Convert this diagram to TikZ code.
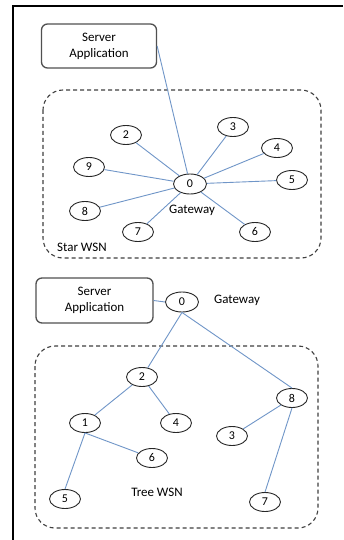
\documentclass[tikz,border=0pt]{standalone}
\usepackage{fontspec}
\setmainfont{Carlito}
\usetikzlibrary{shapes.geometric}
\definecolor{edgeblue}{RGB}{112,150,200}
\definecolor{boxgray}{RGB}{80,80,80}
\begin{document}
\begin{tikzpicture}[x=1bp,y=-1bp,
  nd/.style={ellipse,draw=black!85,line width=0.9bp,minimum width=31bp,minimum height=19bp,inner sep=0pt,font=\fontsize{12}{12}\selectfont},
  gw/.style={nd,minimum width=33bp,minimum height=20bp},
  srv/.style={draw=boxgray,line width=1.3bp,rounded corners=6bp,align=center,font=\fontsize{13}{16}\selectfont,inner sep=0pt},
  zone/.style={draw=black!75,dash pattern=on 4bp off 3bp,line width=1.1bp,rounded corners=20bp},
  lnk/.style={draw=edgeblue,line width=0.9bp},
  lbl/.style={font=\fontsize{13}{16}\selectfont,inner sep=0pt}]
\useasboundingbox (0,0) rectangle (343,540);
\fill[white] (0,0) rectangle (343,540);
\draw[line width=2bp] (12.5,540) -- (12.5,6) -- (343,6);

% ---------- Star WSN ----------
\node[srv,minimum width=115bp,minimum height=44bp] (s1) at (99,46) {Server\\Application};
\draw[zone] (43,90) rectangle (321,258);
\node[gw] (a0) at (190,184) {0};
\node[nd] (a2) at (126,135) {2};
\node[nd] (a3) at (233,127) {3};
\node[nd] (a4) at (277,148) {4};
\node[nd] (a5) at (292,180) {5};
\node[nd] (a9) at (89,167) {9};
\node[nd] (a8) at (85,211) {8};
\node[nd] (a7) at (138,232) {7};
\node[nd] (a6) at (255,232) {6};
\node[lbl] (agl) at (192,210) {Gateway};
\node[lbl] (asl) at (82,247) {Star WSN};
\foreach \n in {2,3,4,5,9,8,7,6} \draw[lnk] (a\n) -- (a0);
\draw[lnk] (s1.east) -- (a0);

% ---------- Tree WSN ----------
\node[srv,minimum width=117bp,minimum height=45bp] (s2) at (94.5,300.5) {Server\\Application};
\draw[zone] (35,346) rectangle (318,528);
\node[gw] (b0) at (182,302) {0};
\node[lbl] (bgl) at (237,300) {Gateway};
\node[nd] (b2) at (142,377) {2};
\node[nd] (b8) at (292,398) {8};
\node[nd] (b1) at (85,423) {1};
\node[nd] (b4) at (176,423) {4};
\node[nd] (b3) at (232,436) {3};
\node[nd] (b6) at (152,458) {6};
\node[nd] (b5) at (65,499) {5};
\node[nd] (b7) at (265,502) {7};
\node[lbl] (btl) at (157,492) {Tree WSN};
\draw[lnk] (s2.east) -- (b0.west);
\draw[lnk] (b0.south) -- (b2);
\draw[lnk] (b0.south) -- (b8.north);
\draw[lnk] (b2) -- (b1);
\draw[lnk] (b2) -- (b4);
\draw[lnk] (b1.south) -- (b6);
\draw[lnk] (b1.south) -- (b5.north);
\draw[lnk] (b8) -- (b3);
\draw[lnk] (b8.south) -- (b7.north);
\end{tikzpicture}
\end{document}
